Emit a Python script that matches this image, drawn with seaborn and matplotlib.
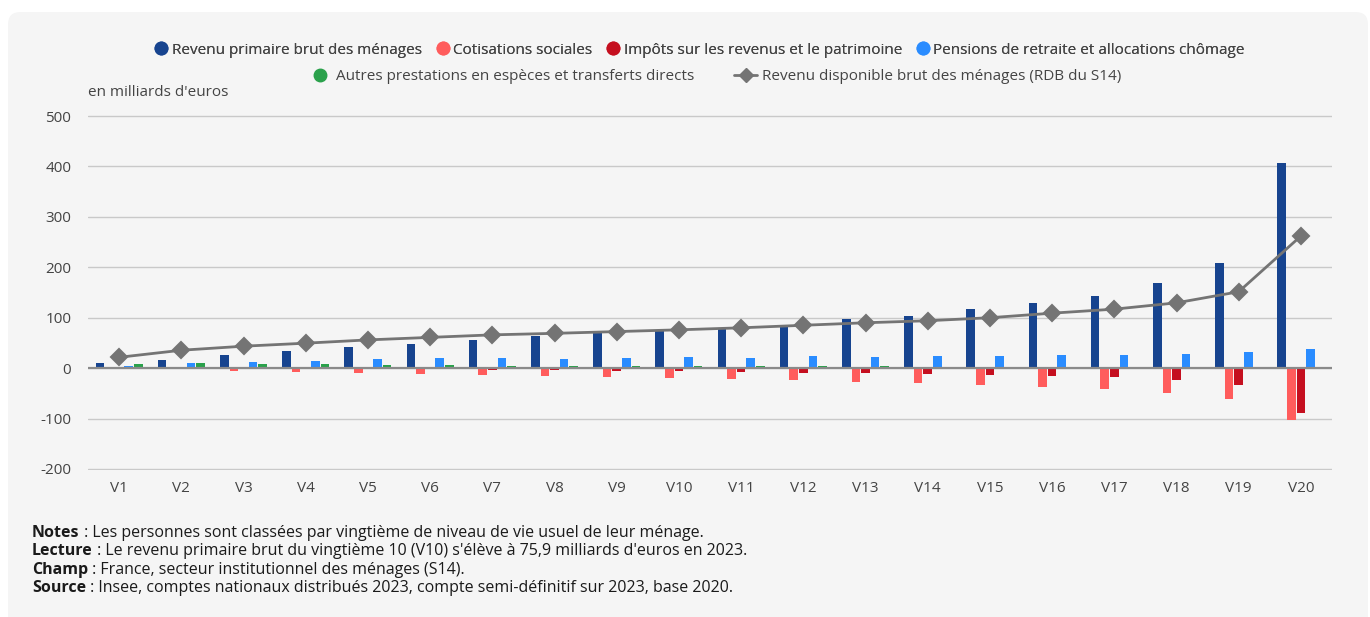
import matplotlib
matplotlib.use("Agg")
import matplotlib.pyplot as plt
from matplotlib.lines import Line2D
from matplotlib.patches import FancyBboxPatch
import pandas as pd
import seaborn as sns

# values (milliards d'euros, 2023)
vingtiemes = ["V1", "V2", "V3", "V4", "V5", "V6", "V7", "V8", "V9", "V10",
              "V11", "V12", "V13", "V14", "V15", "V16", "V17", "V18", "V19", "V20"]
revenu_primaire = [11, 17, 26, 33, 41, 48, 56, 64, 69, 75.9,
                   79, 86, 98, 104, 117, 130, 144, 168, 209, 407]
cotisations = [-1, -1.5, -5, -7, -9.5, -11, -14, -16.5, -18.5, -20.5,
               -22, -23, -28, -28.5, -33, -37, -41.5, -50, -61.5, -102]
impots = [-0.5, -0.5, -0.5, -1, -1, -2, -3.5, -4.5, -5, -6,
          -8, -9, -10.5, -11.5, -13, -15, -18.5, -24, -34, -88]
pensions = [4.5, 11, 13, 15, 18, 21, 20, 19, 20, 21.5,
            21, 24, 22, 24.5, 24.5, 25.5, 25.5, 29, 32, 38]
autres = [9, 9.5, 9, 9, 7, 6, 5, 5, 5, 4.5,
          4.5, 3.5, 4, 3, 3, 3, 3, 3, 3, 3]
rdb = [21.5, 35.5, 43.5, 49.5, 56, 61, 66, 69, 72.5, 76,
       80, 85, 90, 94, 100, 109, 117, 129.5, 151.5, 262]

series_names = [
    "Revenu primaire brut des ménages",
    "Cotisations sociales",
    "Impôts sur les revenus et le patrimoine",
    "Pensions de retraite et allocations chômage",
    "Autres prestations en espèces et transferts directs",
]
series_values = [revenu_primaire, cotisations, impots, pensions, autres]
colors = ["#17448f", "#ff5c5c", "#c50f1f", "#2a8cff", "#2aa14b"]
rdb_name = "Revenu disponible brut des ménages (RDB du S14)"
line_color = "#747474"

notes = [
    ("Notes", " : Les personnes sont classées par vingtième de niveau de vie usuel de leur ménage."),
    ("Lecture", " : Le revenu primaire brut du vingtième 10 (V10) s'élève à 75,9 milliards d'euros en 2023."),
    ("Champ", " : France, secteur institutionnel des ménages (S14)."),
    ("Source", " : Insee, comptes nationaux distribués 2023, compte semi-définitif sur 2023, base 2020."),
]

rows = []
for name, vals in zip(series_names, series_values):
    for v, val in zip(vingtiemes, vals):
        rows.append({"vingtieme": v, "valeur": val, "serie": name})
df = pd.DataFrame(rows)

sns.set_theme(style="white")
plt.rcParams["font.family"] = ["Open Sans", "DejaVu Sans"]
plt.rcParams["axes.unicode_minus"] = False

W, H = 1370, 617
fig = plt.figure(figsize=(W / 100, H / 100), dpi=100, facecolor="white")
card = FancyBboxPatch((8 / W, -0.05), 1360 / W, (H - 12) / H + 0.05,
                      boxstyle="round,pad=0,rounding_size=0.009",
                      mutation_aspect=W / H, transform=fig.transFigure,
                      facecolor="#f5f5f5", edgecolor="none", zorder=-10)
fig.patches.append(card)

ax = fig.add_axes([88 / W, 1 - 470 / H, 1244 / W, 355 / H])
ax.set_facecolor("none")

sns.barplot(data=df, x="vingtieme", y="valeur", hue="serie",
            hue_order=series_names, palette=colors, width=0.77, gap=0.11,
            saturation=1, linewidth=0, legend=False, ax=ax, zorder=3)
sns.pointplot(x=vingtiemes, y=rdb, color=line_color, markers="D",
              markersize=8, linewidth=2, ax=ax, zorder=5)

ax.set_xlim(-0.5, 19.5)
ax.set_ylim(-202, 502)
ax.set_yticks(range(-200, 501, 100))
ax.yaxis.grid(True, color="#c9c9c9", linewidth=1)
ax.xaxis.grid(False)
ax.set_axisbelow(True)
ax.axhline(0, color="#8a8a8a", linewidth=1.6, zorder=4)
for s in ax.spines.values():
    s.set_visible(False)
ax.set_xlabel("")
ax.set_ylabel("")
ax.tick_params(axis="y", length=0, pad=12, labelsize=11, labelcolor="#444444")
ax.tick_params(axis="x", length=0, pad=8, labelsize=11, labelcolor="#444444")

fig.text(88 / W, 1 - 92 / H, "en milliards d'euros", fontsize=11,
         color="#444444", va="center", ha="left")

# legend: 4 items on the first row, 2 on the second
handles = [Line2D([], [], marker="o", linestyle="none", color=c, markersize=9)
           for c in colors]
handles.append(Line2D([], [], marker="D", color=line_color, linewidth=2, markersize=7))
labels = series_names + [rdb_name]

leg1 = fig.legend(handles[:4], labels[:4], loc="center",
                  bbox_to_anchor=(700 / W, 1 - 50 / H), ncol=4, frameon=False,
                  fontsize=11, labelcolor="#444444", handlelength=0.8,
                  handletextpad=0.3, columnspacing=0.95)
fig.legend(handles[4:], labels[4:], loc="center",
           bbox_to_anchor=(715 / W, 1 - 77 / H), ncol=2, frameon=False,
           fontsize=11, labelcolor="#444444", handlelength=1.5,
           handletextpad=0.3, columnspacing=2.6)
fig.add_artist(leg1)

renderer = fig.canvas.get_renderer()
for i, (head, body) in enumerate(notes):
    y = 1 - (533 + i * 18.3) / H
    t = fig.text(32 / W, y, head, fontsize=11.5, fontweight="bold",
                 color="#1a1a1a", va="center", ha="left")
    bb = t.get_window_extent(renderer)
    fig.text(bb.x1 / W, y, body, fontsize=11.5, color="#1a1a1a",
             va="center", ha="left")

fig.savefig("out.png", dpi=100, facecolor=fig.get_facecolor())
